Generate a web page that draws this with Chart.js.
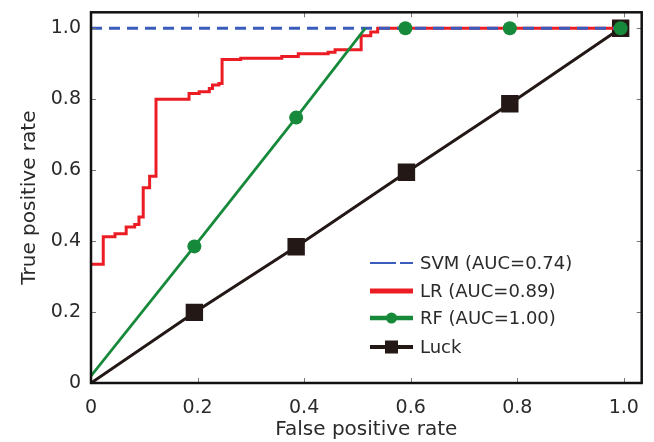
<!DOCTYPE html>
<html>
<head>
<meta charset="utf-8">
<script src="https://cdn.jsdelivr.net/npm/chart.js@4.4.1/dist/chart.umd.min.js"></script>
<style>
  html, body { margin: 0; padding: 0; background: #fff; }
  #wrap { width: 654px; height: 442px; }
</style>
</head>
<body>
<div id="wrap"><canvas id="roc" width="654" height="442"></canvas></div>
<script>
// ROC curves

const legendLabels = ['SVM (AUC=0.74)', 'LR (AUC=0.89)', 'RF (AUC=1.00)', 'Luck'];

const svmFpr = [0, 1.0];
const svmTpr = [1.0, 1.0];

// LR is a step curve (horizontal then vertical)
const lrFpr = [0, 0.023, 0.045, 0.066, 0.082, 0.090, 0.098, 0.110, 0.122, 0.184, 0.203, 0.222, 0.228, 0.240, 0.246, 0.281, 0.358, 0.389, 0.445, 0.458, 0.507, 0.525, 0.538, 1.0];
const lrTpr = [0.335, 0.412, 0.421, 0.440, 0.447, 0.468, 0.550, 0.583, 0.800, 0.816, 0.821, 0.830, 0.840, 0.844, 0.912, 0.915, 0.920, 0.928, 0.932, 0.939, 0.979, 0.989, 1.0, 1.0];

const rfFpr = [0, 0.194, 0.385, 0.515, 0.590, 0.786, 0.994];
const rfTpr = [0.02, 0.385, 0.748, 1.0, 1.0, 1.0, 1.0];
const rfMarker = [0, 1, 1, 0, 1, 1, 1];   // which points carry a marker

const luckFpr = [0, 0.194, 0.385, 0.592, 0.786, 0.994];
const luckTpr = [0, 0.199, 0.384, 0.594, 0.787, 1.0];
const luckMarker = [0, 1, 1, 1, 1, 1];

const blue = '#3a5cbd';
const red = '#ec1c24';
const green = '#17893b';
const black = '#231815';
const textColor = '#2a2a2a';
const fontFamily = '"DejaVu Sans", sans-serif';

function toPoints(xs, ys) {
    return xs.map((v, i) => ({x: v, y: ys[i]}));
}

function tickText(v) {
    if (v === 0) return '0';
    return v.toFixed(1);
}

// keep the plot box where it is in the figure, no label overflow padding
function fixScale(s, size) {
    if (s.isHorizontal()) s.height = size; else s.width = size;
    s.paddingTop = 0;
    s.paddingBottom = 0;
    s.paddingLeft = 0;
    s.paddingRight = 0;
}

// box, inward ticks and the legend
const framePlugin = {
    id: 'frame',
    afterDraw(chart) {
        const {ctx, chartArea: a, scales: {x, y}} = chart;
        ctx.save();
        ctx.strokeStyle = '#777';
        ctx.lineWidth = 1;
        ctx.beginPath();
        x.ticks.forEach(t => {
            const px = Math.round(x.getPixelForValue(t.value)) + 0.5;
            ctx.moveTo(px, a.bottom); ctx.lineTo(px, a.bottom - 5);
            ctx.moveTo(px, a.top); ctx.lineTo(px, a.top + 5);
        });
        y.ticks.forEach(t => {
            const py = Math.round(y.getPixelForValue(t.value)) + 0.5;
            ctx.moveTo(a.left, py); ctx.lineTo(a.left + 5, py);
            ctx.moveTo(a.right, py); ctx.lineTo(a.right - 5, py);
        });
        ctx.stroke();

        ctx.strokeStyle = '#111';
        ctx.lineWidth = 2.5;
        ctx.strokeRect(a.left, a.top, a.width, a.height);

        // legend
        const rows = [263, 291, 318, 347];
        const x0 = 370, x1 = 413, tx = 420;
        const mid = (x0 + x1) / 2;

        ctx.lineCap = 'butt';
        ctx.strokeStyle = blue;
        ctx.lineWidth = 2;
        ctx.setLineDash([26, 4]);
        ctx.beginPath(); ctx.moveTo(x0, rows[0]); ctx.lineTo(x1, rows[0]); ctx.stroke();
        ctx.setLineDash([]);

        ctx.strokeStyle = red;
        ctx.lineWidth = 5;
        ctx.beginPath(); ctx.moveTo(x0, rows[1]); ctx.lineTo(x1, rows[1]); ctx.stroke();

        ctx.strokeStyle = green;
        ctx.lineWidth = 4.5;
        ctx.beginPath(); ctx.moveTo(x0, rows[2]); ctx.lineTo(x1, rows[2]); ctx.stroke();
        ctx.fillStyle = green;
        ctx.beginPath(); ctx.arc(mid, rows[2], 5.5, 0, Math.PI * 2); ctx.fill();

        ctx.strokeStyle = black;
        ctx.lineWidth = 4;
        ctx.beginPath(); ctx.moveTo(x0, rows[3]); ctx.lineTo(x1, rows[3]); ctx.stroke();
        ctx.fillStyle = black;
        ctx.fillRect(mid - 6.5, rows[3] - 6.5, 13, 13);

        ctx.fillStyle = textColor;
        ctx.font = '18px ' + fontFamily;
        ctx.textBaseline = 'middle';
        ctx.textAlign = 'left';
        legendLabels.forEach((t, i) => ctx.fillText(t, tx, rows[i] + 1));
        ctx.restore();
    }
};

const ctx = document.getElementById('roc');
const myChart = new Chart(ctx, {
    type: 'scatter',
    data: {
        datasets: [
            {
                label: legendLabels[2],
                data: toPoints(rfFpr, rfTpr),
                showLine: true,
                borderColor: green,
                backgroundColor: green,
                borderWidth: 2.8,
                pointRadius: rfMarker.map(m => m ? 7 : 0),
                pointBorderWidth: 0,
                // flat part at 1.0 sits under the red/blue lines
                segment: {
                    borderColor: c => (c.p0.parsed.y >= 1 && c.p1.parsed.y >= 1) ? 'rgba(0,0,0,0)' : green
                },
                order: 0
            },
            {
                label: legendLabels[0],
                data: toPoints(svmFpr, svmTpr),
                showLine: true,
                borderColor: blue,
                borderWidth: 3,
                borderDash: [11, 7],
                pointRadius: 0,
                order: 1
            },
            {
                label: legendLabels[1],
                data: toPoints(lrFpr, lrTpr),
                showLine: true,
                stepped: 'before',
                borderColor: red,
                borderWidth: 3,
                pointRadius: 0,
                order: 2
            },
            {
                label: legendLabels[3],
                data: toPoints(luckFpr, luckTpr),
                showLine: true,
                borderColor: black,
                backgroundColor: black,
                borderWidth: 3,
                pointStyle: 'rect',
                pointRadius: luckMarker.map(m => m ? 12.3 : 0),
                pointBorderWidth: 0,
                order: 3
            }
        ]
    },
    options: {
        responsive: false,
        animation: false,
        layout: {
            padding: {left: 0, top: 10, right: 8, bottom: 0}
        },
        scales: {
            x: {
                type: 'linear',
                min: 0,
                max: 1.0335,
                grid: {display: false, drawTicks: false},
                border: {display: false},
                afterFit: s => fixScale(s, 59),
                ticks: {
                    stepSize: 0.2,
                    includeBounds: false,
                    padding: 14,
                    color: textColor,
                    font: {family: fontFamily, size: 19},
                    callback: v => tickText(v)
                },
                title: {
                    display: true,
                    text: 'False positive rate',
                    color: textColor,
                    font: {family: fontFamily, size: 20},
                    padding: {top: 0, bottom: 0}
                }
            },
            y: {
                type: 'linear',
                min: 0,
                max: 1.0448,
                grid: {display: false, drawTicks: false},
                border: {display: false},
                afterFit: s => fixScale(s, 91),
                ticks: {
                    stepSize: 0.2,
                    includeBounds: false,
                    padding: 10,
                    color: textColor,
                    font: {family: fontFamily, size: 19},
                    callback: v => tickText(v)
                },
                title: {
                    display: true,
                    text: 'True positive rate',
                    color: textColor,
                    font: {family: fontFamily, size: 20},
                    padding: {top: 18, bottom: 0}
                }
            }
        },
        plugins: {
            legend: {display: false},
            tooltip: {enabled: false}
        }
    },
    plugins: [framePlugin]
});
</script>
</body>
</html>
